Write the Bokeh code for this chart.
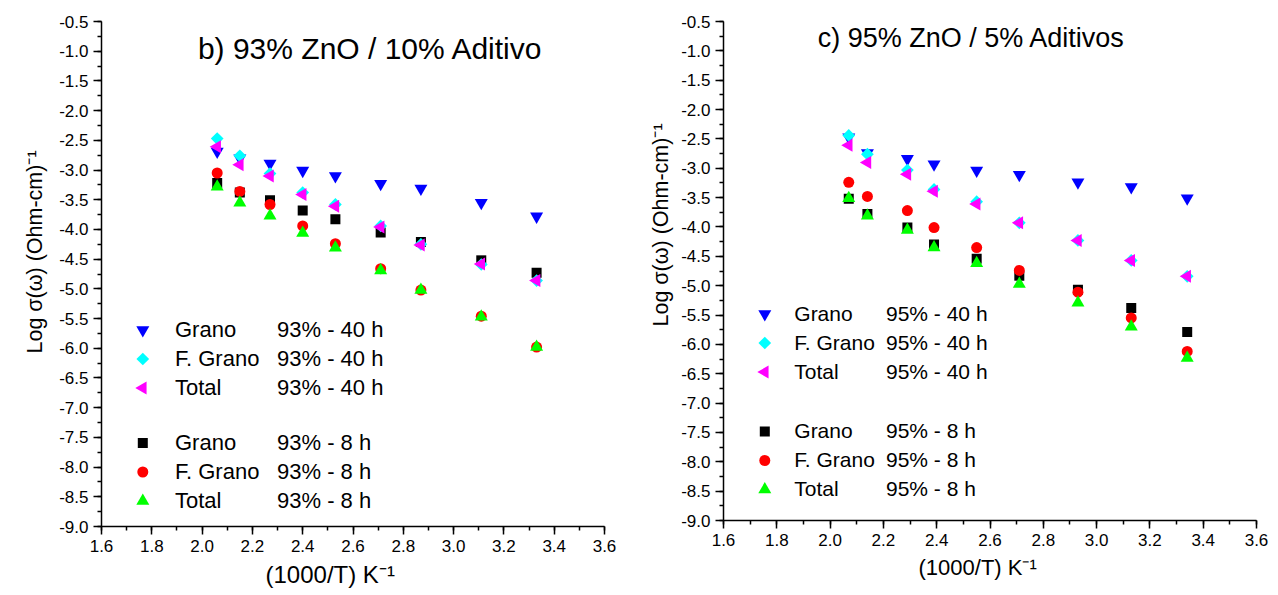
from math import pi
from bokeh.plotting import figure
from bokeh.models import (Range1d, SingleIntervalTicker, PrintfTickFormatter,
                          Label, Legend, LegendItem, Title)
from bokeh.layouts import row
from bokeh.embed import file_html
from bokeh.resources import INLINE

# ---------------- data ----------------
series_names = ["Grano", "F. Grano", "Total"]

x93 = [2.06, 2.15, 2.27, 2.40, 2.53, 2.71, 2.87, 3.11, 3.33]
grano93_40 = [-2.69, -2.80, -2.89, -3.01, -3.10, -3.23, -3.31, -3.55, -3.78]
fgrano93_40 = [-2.47, -2.76, -3.06, -3.38, -3.58, -3.94, -4.25, -4.59, -4.86]
total93_40 = [-2.61, -2.91, -3.10, -3.41, -3.61, -3.96, -4.26, -4.58, -4.86]
grano93_8 = [-3.22, -3.38, -3.51, -3.68, -3.83, -4.05, -4.21, -4.52, -4.73]
fgrano93_8 = [-3.05, -3.36, -3.58, -3.94, -4.24, -4.66, -5.02, -5.46, -5.98]
total93_8 = [-3.28, -3.55, -3.77, -4.06, -4.31, -4.69, -5.02, -5.47, -5.98]

x95 = [2.07, 2.14, 2.29, 2.39, 2.55, 2.71, 2.93, 3.13, 3.34]
grano95_40 = [-2.47, -2.74, -2.84, -2.93, -3.04, -3.11, -3.24, -3.32, -3.51]
fgrano95_40 = [-2.44, -2.76, -3.03, -3.36, -3.57, -3.93, -4.23, -4.57, -4.84]
total95_40 = [-2.61, -2.90, -3.10, -3.39, -3.61, -3.93, -4.23, -4.57, -4.84]
grano95_8 = [-3.52, -3.78, -4.01, -4.30, -4.54, -4.83, -5.07, -5.38, -5.79]
fgrano95_8 = [-3.24, -3.48, -3.72, -4.01, -4.35, -4.74, -5.11, -5.55, -6.12]
total95_8 = [-3.51, -3.81, -4.05, -4.35, -4.62, -4.97, -5.29, -5.70, -6.23]

title93 = "b) 93% ZnO / 10% Aditivo"
title95 = "c) 95% ZnO / 5% Aditivos"
tag93 = ["93% - 40 h", "93% - 8 h"]
tag95 = ["95% - 40 h", "95% - 8 h"]
y_title = "Log σ(ω) (Ohm-cm)⁻¹"
x_title = "(1000/T) K⁻¹"

FONT = "Liberation Sans"

# marker styles: (marker, color, size, angle)
sty40 = [("inverted_triangle", "#0000FF", 13, 0.0),
         ("square", "#00FFFF", 9, pi / 4),
         ("triangle", "#FF00FF", 13, pi / 2)]
sty8 = [("square", "#000000", 10, 0.0),
        ("circle", "#FF0000", 11, 0.0),
        ("triangle", "#00FF00", 13, 0.0)]


def build(xs, s40, s8, title, tags, geo):
    (ox, fl, fw, fr, ft, fh, fb, title_pos, title_fs,
     ylab_off, ylab_stand, xlab_off, xlab_stand, xlab_fs, leg) = geo

    def X(px):
        return 1.6 + (px - ox - fl) * 2.0 / fw

    def Y(py):
        return -0.5 - (py - ft) * 8.5 / fh

    p = figure(frame_width=fw, frame_height=fh,
               min_border_left=fl, min_border_right=fr,
               min_border_top=ft, min_border_bottom=fb,
               x_range=Range1d(1.6, 3.6), y_range=Range1d(-9.0, -0.5),
               output_backend="svg", toolbar_location=None, tools="")
    p.outline_line_color = None
    p.grid.visible = False
    p.background_fill_color = "white"
    p.border_fill_color = "white"

    p.xaxis.ticker = SingleIntervalTicker(interval=0.2, num_minor_ticks=2)
    p.yaxis.ticker = SingleIntervalTicker(interval=0.5, num_minor_ticks=2)
    p.xaxis.formatter = PrintfTickFormatter(format="%.1f")
    p.yaxis.formatter = PrintfTickFormatter(format="%.1f")
    for ax in (p.xaxis, p.yaxis):
        ax.axis_line_width = 1.5
        ax.axis_line_color = "black"
        ax.major_tick_line_width = 1.5
        ax.minor_tick_line_width = 1.5
        ax.major_tick_line_color = "black"
        ax.minor_tick_line_color = "black"
        ax.major_tick_in = 0
        ax.major_tick_out = 8
        ax.minor_tick_in = 0
        ax.minor_tick_out = 4
        ax.major_label_text_font = FONT
        ax.major_label_text_font_size = "17px"
        ax.major_label_text_color = "black"
    p.yaxis.major_label_standoff = 5
    p.xaxis.major_label_standoff = 5

    # axis titles as side-panel titles (real text, positioned by offset)
    p.add_layout(Title(text=y_title, align="left", offset=ylab_off,
                       standoff=ylab_stand, text_font=FONT,
                       text_font_size="21.5px", text_font_style="normal",
                       text_color="black"), "left")
    p.add_layout(Title(text=x_title, align="left", offset=xlab_off,
                       standoff=xlab_stand, text_font=FONT,
                       text_font_size=xlab_fs, text_font_style="normal",
                       text_color="black"), "below")

    r8 = []
    for ys, (m, c, s, a) in zip(s8, sty8):
        r8.append(p.scatter(xs, ys, marker=m, size=s, angle=a,
                            fill_color=c, line_color=None))
    r40 = []
    for ys, (m, c, s, a) in zip(s40, sty40):
        r40.append(p.scatter(xs, ys, marker=m, size=s, angle=a,
                             fill_color=c, line_color=None))

    # legends: symbols drawn with the series styles, texts in Legend boxes
    (gx, lx1, lx2, rows40, rows8, lfs) = leg

    def mk(items, x, y):
        lg = Legend(items=items, location=(x, y), orientation="vertical",
                    padding=0, spacing=0, margin=0,
                    glyph_width=0, glyph_height=29, label_height=29,
                    label_standoff=0, label_text_font=FONT,
                    label_text_font_size=lfs, label_text_color="black",
                    border_line_color=None, background_fill_alpha=0)
        p.add_layout(lg)

    for rs, rows, sty, tag in ((r40, rows40, sty40, tags[0]),
                               (r8, rows8, sty8, tags[1])):
        ybot = ft + fh - (rows[-1] + 14.5)
        mk([LegendItem(label=n, renderers=[r]) for n, r in zip(series_names, rs)],
           lx1 - ox - fl, ybot)
        mk([LegendItem(label=tag, renderers=[r]) for r in rs],
           lx2 - ox - fl, ybot)
        for ry, (m, c, s, a) in zip(rows, sty):
            p.scatter([X(gx)], [Y(ry)], marker=m, size=s, angle=a,
                      fill_color=c, line_color=None)

    # panel title
    p.add_layout(Label(x=X(title_pos[0]), y=Y(title_pos[1]), text=title,
                       text_font=FONT, text_font_size=title_fs,
                       text_align="center", text_baseline="middle",
                       text_color="black"))
    return p


geo93 = (0, 101, 503, 36, 20, 505, 70,
         (370, 47), "30px",
         173, 20, 164, 8, "24px",
         (142.3, 175, 277, (328.5, 357.5, 386.5), (441.5, 470.5, 499.5), "22px"))
geo95 = (640, 82, 533, 23, 21, 499, 75,
         (970, 37), "27px",
         194, 12, 195, 8, "22px",
         (763.3, 793.3, 885, (313.5, 342.5, 371.5), (431, 460, 489), "21px"))

p1 = build(x93, [grano93_40, fgrano93_40, total93_40],
           [grano93_8, fgrano93_8, total93_8], title93, tag93, geo93)
p2 = build(x95, [grano95_40, fgrano95_40, total95_40],
           [grano95_8, fgrano95_8, total95_8], title95, tag95, geo95)

layout = row(p1, p2)
open("out.html", "w").write(file_html(layout, INLINE))
